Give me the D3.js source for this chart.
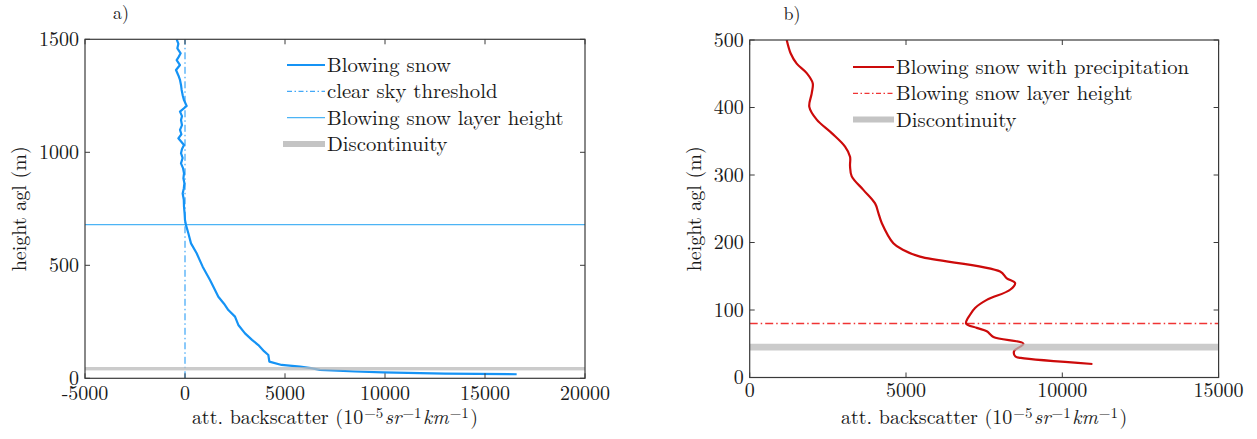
<!DOCTYPE html>
<html><head><meta charset="utf-8">
<script src="https://cdn.jsdelivr.net/npm/d3@7"></script>
<style>body{margin:0;background:#fff;}</style></head><body>
<svg id="c" width="1257" height="439"></svg>
<script>
// ---- Panel a) data ----
const heightA = [1500,1480,1460,1438,1420,1408,1386,1364,1340,1320,1298,1276,1250,1231,1205,1180,1160,1143,1120,1099,1080,1062,1032,1015,996,975,951,930,907,885,863,840,818,790,759,730,700,678,642,597,553,494,435,400,361,330,302,273,236,199,170,147,120,103,74,59,52,45,37,30,26.5,21,18];
const backA   = [-417,-330,-383,-217,-330,-417,-250,-450,-330,-250,-200,-167,-110,-50,83,-250,-150,-200,-150,-250,-180,-333,-50,-150,-200,-120,-200,-100,-50,-80,-30,-60,-117,-60,-50,-20,0,50,167,300,583,883,1250,1450,1667,1950,2167,2500,2667,3000,3350,3667,3950,4167,4217,4833,5750,6300,6750,8500,9900,13000,16583];
const thresholdA = 0;
const layerA = 680;
const discA = [35,50];
const xTicksA = [-5000,0,5000,10000,15000,20000];
const yTicksA = [0,500,1000,1500];
const legendA = ["Blowing snow","clear sky threshold","Blowing snow layer height","Discontinuity"];

// ---- Panel b) data ----
const heightB = [500,480,465,451,436,421,401,382,362,342,327,313,298,278,258,244,229,199,189,179,157,147,140,130,115,103,93,80,73.5,68.5,60,50,39,31,29,20];
const backB   = [1184,1312,1504,1824,2016,1984,1907,2144,2624,3050,3210,3210,3264,3636,4010,4115,4224,4595,4915,5450,8010,8224,8490,8330,7584,7210,7050,6922,7264,7584,7797,8755,8458,8500,8672,10963];
const layerB = 80;
const discB = [40,50];
const xTicksB = [0,5000,10000,15000];
const yTicksB = [0,100,200,300,400,500];
const legendB = ["Blowing snow with precipitation","Blowing snow layer height","Discontinuity"];

const svg = d3.select("#c");
const FONT = "Latin Modern Roman";
const BLUE = "#1593f5", BLUE_L = "#4cb4f5", RED = "#cc0a0a", RED_L = "#f03434", GRAY = "#bababa";
const AX = "#3a3a3a", TXT = "#1a1a1a";

function txt(sel){ return sel.attr("font-family",FONT).attr("fill",TXT); }

function axesBox(g, x, y, xt, yt, ylabelX, panelLabel, plX, xtOff){
  const [x0,x1] = x.range(), [y0,y1] = y.range();
  g.append("g").selectAll("line").data(xt).join("line")
    .attr("x1",d=>x(d)).attr("x2",d=>x(d)).attr("y1",y0).attr("y2",y0-5).attr("stroke",AX);
  g.append("g").selectAll("line").data(xt).join("line")
    .attr("x1",d=>x(d)).attr("x2",d=>x(d)).attr("y1",y1).attr("y2",y1+5).attr("stroke",AX);
  g.append("g").selectAll("line").data(yt).join("line")
    .attr("y1",d=>y(d)).attr("y2",d=>y(d)).attr("x1",x0).attr("x2",x0+5).attr("stroke",AX);
  g.append("g").selectAll("line").data(yt).join("line")
    .attr("y1",d=>y(d)).attr("y2",d=>y(d)).attr("x1",x1).attr("x2",x1-5).attr("stroke",AX);
  g.append("rect").attr("x",x0).attr("y",y1).attr("width",x1-x0).attr("height",y0-y1)
    .attr("fill","none").attr("stroke",AX).attr("stroke-width",1.2);
  txt(g.append("g").selectAll("text").data(xt).join("text"))
    .attr("x",d=>x(d)).attr("y",y0+xtOff).attr("text-anchor","middle")
    .attr("font-size",20).text(d=>d);
  txt(g.append("g").selectAll("text").data(yt).join("text"))
    .attr("x",x0-6).attr("y",d=>y(d)).attr("dy","0.33em").attr("text-anchor","end")
    .attr("font-size",20).text(d=>d);
  txt(g.append("text")).attr("transform",`translate(${ylabelX},${(y0+y1)/2}) rotate(-90)`)
    .attr("text-anchor","middle").attr("dy","0.33em")
    .attr("font-size",20).text("height agl (m)");
  const t = txt(g.append("text")).attr("x",(x0+x1)/2).attr("y",y0+46).attr("text-anchor","middle")
    .attr("font-size",20);
  t.append("tspan").text("att. backscatter (10");
  t.append("tspan").attr("dx",1).attr("baseline-shift","40%").attr("font-size",15).text("−5");
  t.append("tspan").attr("dx",1.5).attr("font-style","italic").text("sr");
  t.append("tspan").attr("dx",1).attr("baseline-shift","40%").attr("font-size",15).text("−1");
  t.append("tspan").attr("dx",1.5).attr("font-style","italic").text("km");
  t.append("tspan").attr("dx",1).attr("baseline-shift","40%").attr("font-size",15).text("−1");
  t.append("tspan").attr("dx",1.5).text(")");
  txt(g.append("text")).attr("x",plX).attr("y",y1-20).attr("text-anchor","middle")
    .attr("font-size",18).text(panelLabel);
}

function legend(g, x0, y0, items){
  items.forEach((it,i)=>{
    const yy = y0 + i*26.3;
    const ln = g.append("line").attr("x1",it.x1).attr("x2",it.x2).attr("y1",yy).attr("y2",yy)
      .attr("stroke",it.color).attr("stroke-width",it.w);
    if(it.dash) ln.attr("stroke-dasharray",it.dash);
    txt(g.append("text")).attr("x",x0).attr("y",yy).attr("dy","0.34em")
      .attr("font-size",20.7).text(it.label);
  });
}

// ---------- Panel a ----------
{
  const x = d3.scaleLinear().domain([-5000,20000]).range([85,585]);
  const y = d3.scaleLinear().domain([0,1500]).range([378.3,39.3]);
  const g = svg.append("g");
  g.append("clipPath").attr("id","ca").append("rect")
    .attr("x",85).attr("y",39.3).attr("width",500).attr("height",339);
  const pg = g.append("g").attr("clip-path","url(#ca)");
  pg.append("line").attr("x1",x(-5000)).attr("x2",x(20000)).attr("y1",y(layerA)).attr("y2",y(layerA))
    .attr("stroke",BLUE_L).attr("stroke-width",1.2);
  pg.append("line").attr("x1",x(thresholdA)).attr("x2",x(thresholdA)).attr("y1",y(0)).attr("y2",y(1500))
    .attr("stroke",BLUE).attr("stroke-width",1).attr("stroke-dasharray","7,3,1.5,3");
  const pts = heightA.map((h,i)=>[backA[i],h]);
  pg.append("path").datum(pts).attr("fill","none").attr("stroke",BLUE).attr("stroke-width",2.2)
    .attr("stroke-linejoin","round")
    .attr("d",d3.line().x(d=>x(d[0])).y(d=>y(d[1])));
  pg.append("rect").attr("x",x(-5000)).attr("width",x(20000)-x(-5000))
    .attr("y",y(discA[1])).attr("height",y(discA[0])-y(discA[1]))
    .attr("fill",GRAY).attr("fill-opacity",0.75);
  axesBox(g,x,y,xTicksA,yTicksA,19,"a)",121,22);
  legend(g,327,65,[
    {label:legendA[0],color:BLUE,w:2.2,x1:287,x2:325},
    {label:legendA[1],color:BLUE,w:1,x1:287,x2:325,dash:"5,2.5,1.5,2.5"},
    {label:legendA[2],color:BLUE_L,w:1.2,x1:287,x2:325},
    {label:legendA[3],color:"#c4c4c4",w:6,x1:283,x2:325}
  ]);
}

// ---------- Panel b ----------
{
  const x = d3.scaleLinear().domain([0,15000]).range([749.7,1218.6]);
  const y = d3.scaleLinear().domain([0,500]).range([377.5,40]);
  const g = svg.append("g");
  g.append("clipPath").attr("id","cb").append("rect")
    .attr("x",749.7).attr("y",40).attr("width",1218.6-749.7).attr("height",337.5);
  const pg = g.append("g").attr("clip-path","url(#cb)");
  pg.append("line").attr("x1",x(0)).attr("x2",x(15000)).attr("y1",y(layerB)).attr("y2",y(layerB))
    .attr("stroke",RED_L).attr("stroke-width",1.3).attr("stroke-dasharray","8,3,1.5,3");
  const pts = heightB.map((h,i)=>[backB[i],h]);
  pg.append("path").datum(pts).attr("fill","none").attr("stroke",RED).attr("stroke-width",2.2)
    .attr("stroke-linejoin","round")
    .attr("d",d3.line().curve(d3.curveCatmullRom.alpha(0.5)).x(d=>x(d[0])).y(d=>y(d[1])));
  pg.append("rect").attr("x",x(0)).attr("width",x(15000)-x(0))
    .attr("y",y(discB[1])).attr("height",y(discB[0])-y(discB[1]))
    .attr("fill",GRAY).attr("fill-opacity",0.75);
  axesBox(g,x,y,xTicksB,yTicksB,694,"b)",792,19);
  legend(g,896,67,[
    {label:legendB[0],color:RED,w:2.2,x1:853,x2:894},
    {label:legendB[1],color:RED_L,w:1.3,x1:853,x2:894,dash:"5,2.5,1.5,2.5"},
    {label:legendB[2],color:"#c4c4c4",w:6,x1:853,x2:894}
  ]);
}
</script></body></html>
